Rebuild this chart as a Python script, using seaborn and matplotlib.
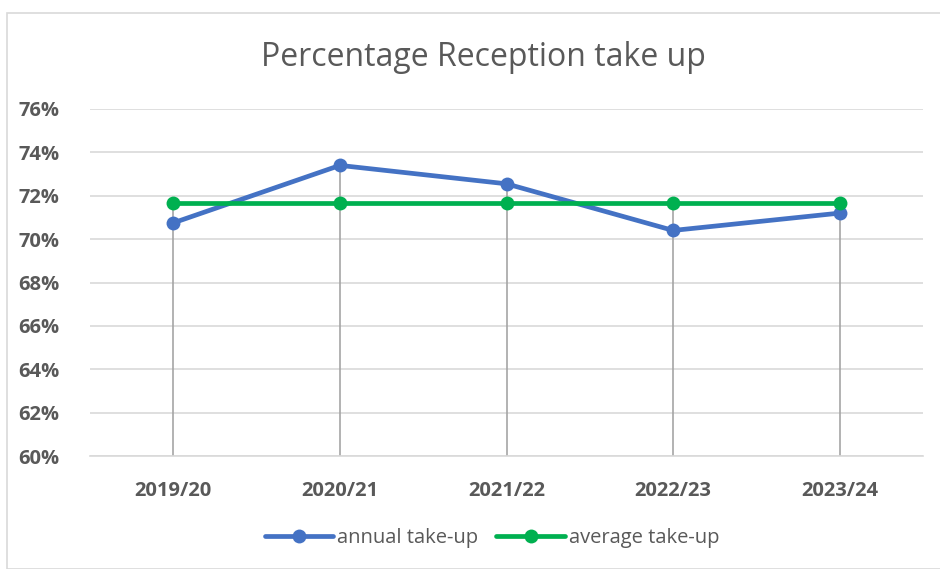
import numpy as np
import pandas as pd
import matplotlib
matplotlib.use('Agg')
import matplotlib.pyplot as plt
from matplotlib.patches import Rectangle
import seaborn as sns

YEARS = ['2019/20', '2020/21', '2021/22', '2022/23', '2023/24']
ANNUAL = [70.75, 73.4, 72.55, 70.4, 71.2]
AVERAGE = [71.66, 71.66, 71.66, 71.66, 71.66]

BLUE = '#4472C4'
GREEN = '#00B050'
TXT = '#595959'

df = pd.DataFrame({
    'year': YEARS * 2,
    'pct': ANNUAL + AVERAGE,
    'series': ['annual take-up'] * 5 + ['average take-up'] * 5,
})

sns.set_style('white')
plt.rcParams['font.family'] = ['Open Sans', 'DejaVu Sans']

fig = plt.figure(figsize=(9.4, 5.69), dpi=100)
ax = fig.add_axes([90 / 940, 1 - 456 / 569, 833 / 940, 347 / 569])

# chart border
fig.patches.append(Rectangle((7 / 940, 0), 1, 1 - 13 / 569, transform=fig.transFigure,
                             fill=False, edgecolor='#D9D9D9', lw=1.2))

x = np.arange(len(YEARS))
# drop lines from the highest point down to the axis
tops = np.maximum(ANNUAL, AVERAGE)
ax.vlines(x, 60, tops, color='#A5A5A5', lw=1.2, zorder=1)

df['x'] = df['year'].map({y: i for i, y in enumerate(YEARS)})
sns.lineplot(data=df, x='x', y='pct', hue='series', palette=[BLUE, GREEN],
             marker='o', markersize=10, markeredgewidth=0, lw=3.4, ax=ax, zorder=3)

ax.set_xlim(-0.5, 4.5)
ax.set_ylim(60, 76)
ax.set_yticks(range(60, 77, 2))
ax.set_yticklabels([f'{v}%' for v in range(60, 77, 2)])
ax.set_xticks(x)
ax.set_xticklabels(YEARS)
ax.yaxis.grid(True, color='#D9D9D9', lw=1.2)
ax.set_axisbelow(True)
for s in ['top', 'right', 'left']:
    ax.spines[s].set_visible(False)
ax.spines['bottom'].set_color('#D9D9D9')
ax.spines['bottom'].set_linewidth(1.2)
ax.tick_params(axis='both', length=0, colors=TXT, labelsize=14.5)
ax.tick_params(axis='x', pad=18)
ax.tick_params(axis='y', pad=22)
for lab in ax.get_xticklabels() + ax.get_yticklabels():
    lab.set_fontweight('bold')
ax.set_xlabel('')
ax.set_ylabel('')

fig.text(483 / 940, 1 - 58 / 569, 'Percentage Reception take up', ha='center', va='center',
         fontsize=23, color=TXT)

leg = ax.legend(loc='center', bbox_to_anchor=(492 / 940, 1 - 538 / 569),
                bbox_transform=fig.transFigure, ncol=2, frameon=False, fontsize=14.5,
                handlelength=3.4, columnspacing=0.9, handletextpad=0.2)
for t in leg.get_texts():
    t.set_color(TXT)

fig.savefig('out.png', dpi=100, facecolor='white')
